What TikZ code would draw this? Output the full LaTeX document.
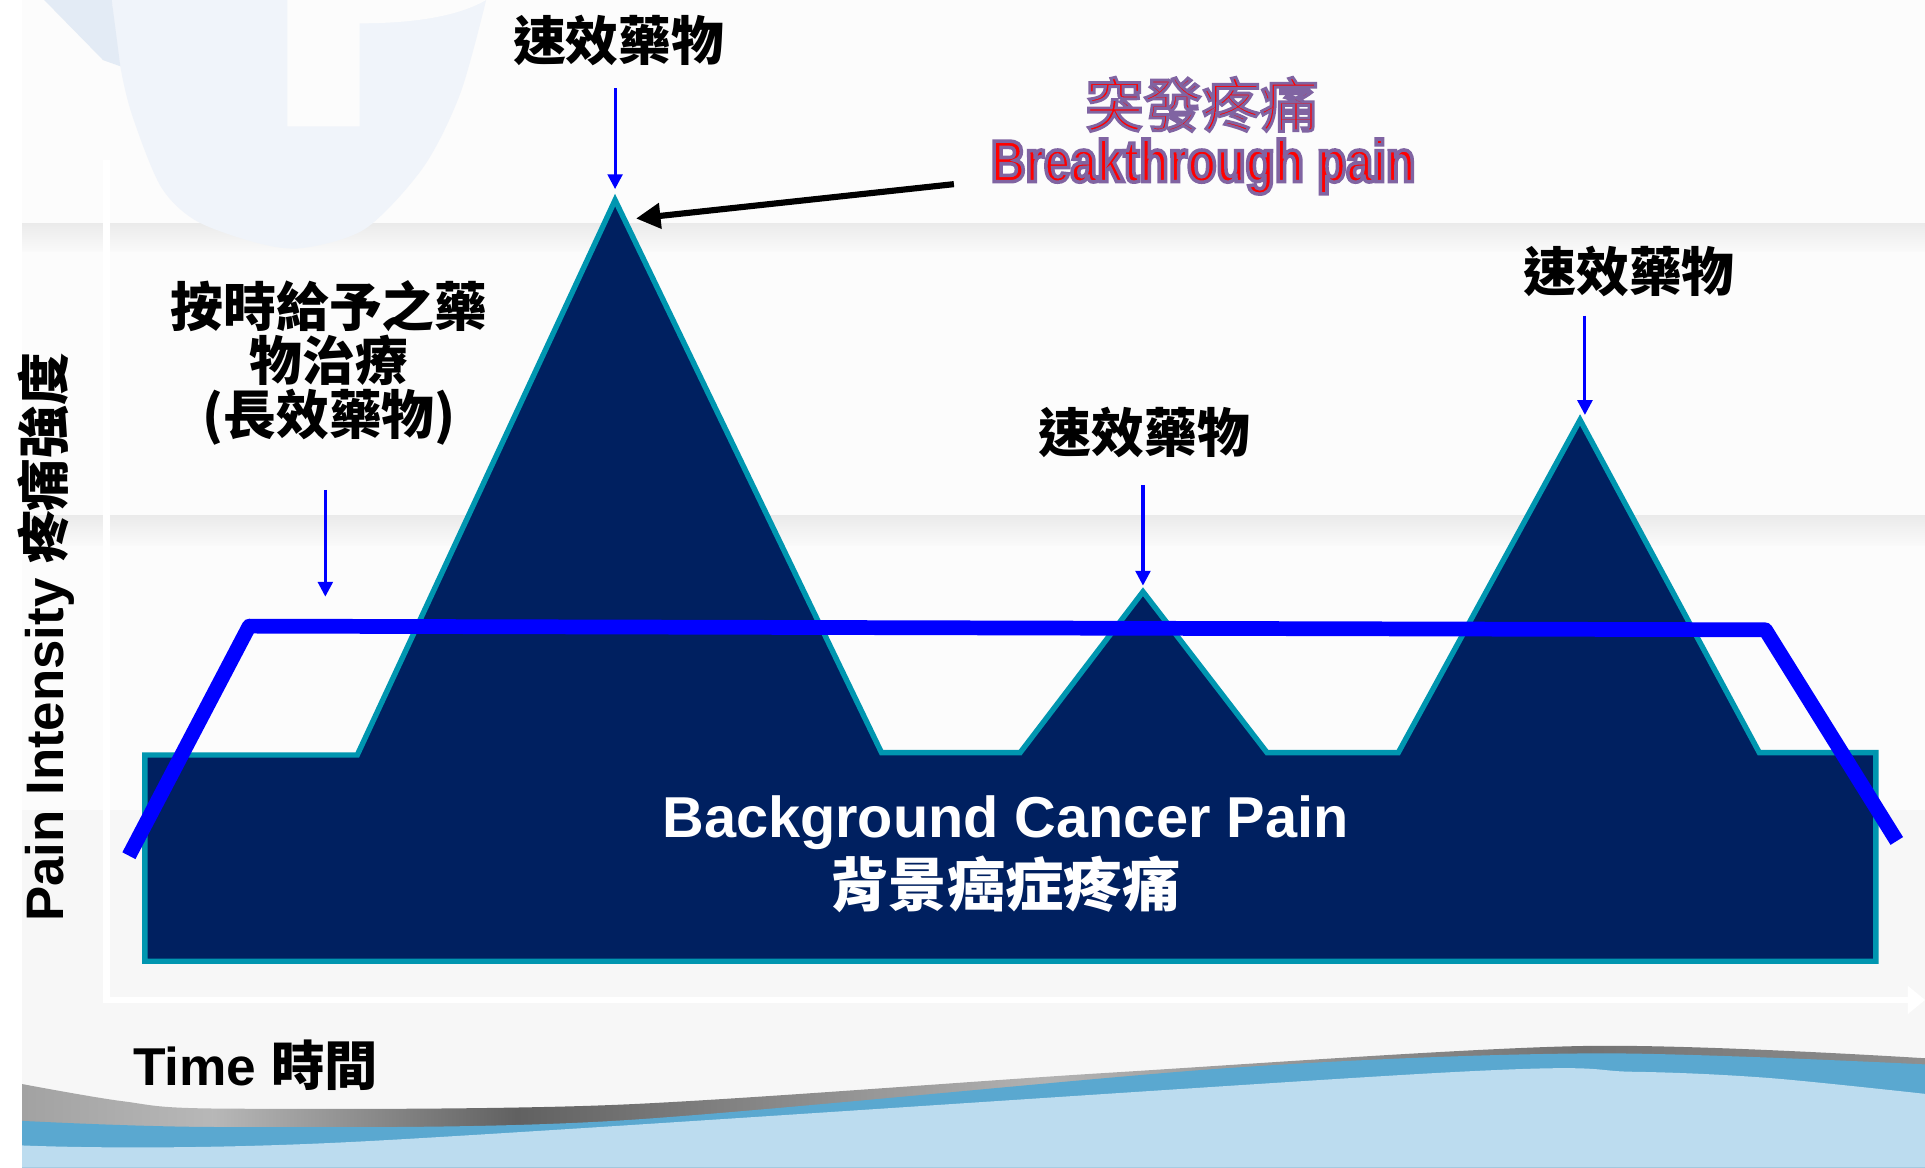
\documentclass[tikz,border=0pt]{standalone}
\usepackage{fontspec}
\setmainfont{Liberation Sans}
\newfontfamily\cjk{Noto Sans CJK TC}
\newfontfamily\cjkout{Noto Sans CJK TC}[FakeBold=5]
\newfontfamily\narrowout{Liberation Sans Bold}[FakeStretch=0.81,FakeBold=6]
\usetikzlibrary{arrows.meta}
\definecolor{navy}{RGB}{0,32,96}
\definecolor{tealedge}{RGB}{0,150,176}
\definecolor{purp}{RGB}{128,100,162}
\definecolor{midblue}{RGB}{90,168,208}
\definecolor{lightblue}{RGB}{188,220,239}
\definecolor{wmark}{RGB}{240,244,250}
\definecolor{wmarkdark}{RGB}{227,235,245}
\definecolor{bgtop}{RGB}{252,252,252}
\definecolor{bglow}{RGB}{247,247,247}
\definecolor{pureblue}{RGB}{0,0,255}
\pgfdeclarehorizontalshading{metal}{100bp}{color(0bp)=(black!60); color(20bp)=(black!45); color(30bp)=(black!28); color(38bp)=(black!62); color(52bp)=(black!30); color(66bp)=(black!55); color(82bp)=(black!35); color(100bp)=(black!55)}
\newcommand{\outlinetext}[1]{\special{pdf:bcolor [1 0 0] [0.502 0.392 0.635]}#1\special{pdf:ecolor}}
\begin{document}
\begin{tikzpicture}[x=0.5pt,y=-0.5pt,
  cjklabel/.style={font=\cjk\bfseries\fontsize{21.5pt}{22pt}\selectfont,text=black,inner sep=0pt,align=center},
  druglink/.style={draw=pureblue,line width=1.25pt,-{Triangle[length=6pt,width=6pt]}},
  painarea/.style={draw=tealedge,fill=navy,line width=2.2pt,line join=miter},
  levelline/.style={draw=pureblue,line width=6pt,line join=round},
  bandstyle/.style={top color=black!8,bottom color=black!2},
  axisline/.style={fill=white}
]
\useasboundingbox (0,0) rectangle (1568,951);
% background
\fill[white] (0,0) rectangle (1568,951);
\fill[bgtop] (18,0) rectangle (1568,660);
\fill[bglow] (18,660) rectangle (1568,951);
\shade[bandstyle] (18,182) rectangle (1568,205);
\shade[bandstyle] (18,420) rectangle (1568,444);
% watermark
\fill[wmark] (91,0) -- plot[smooth] coordinates {(91,0) (98,54) (108,95) (131,152) (160,180) (210,198) (247,202) (298,186) (345,136) (375,76) (396,0)} -- cycle;
\fill[wmarkdark] (36,0) -- (84,49) -- (98,54) -- (91,0) -- cycle;
\fill[bgtop] (234,0) -- (234,103) -- (293,103) -- (293,19) .. controls (330,19) and (370,15) .. (396,0) -- cycle;
% axes (white)
\fill[axisline] (84,130) rectangle (90,816);
\fill[axisline] (84,812) rectangle (1556,817);
\fill[axisline] (1554,803) -- (1568,814.5) -- (1554,826) -- cycle;
% bottom wave
\shade[shading=metal] plot[smooth] coordinates {(18,883) (100,897) (180,903) (500,900) (900,874) (1290,852) (1568,862)} -- (1568,951) -- (18,951) -- cycle;
\fill[midblue] plot[smooth] coordinates {(18,913) (180,918) (500,913) (1000,870) (1300,858) (1568,867)} -- (1568,951) -- (18,951) -- cycle;
\fill[lightblue] plot[smooth] coordinates {(18,933) (290,930) (1170,874) (1330,873) (1440,878) (1568,891)} -- (1568,951) -- (18,951) -- cycle;
% pain area
\draw[painarea] (118,615) -- (291,615) -- (501,163) -- (718,613) -- (831,613) -- (931,482) -- (1032,613) -- (1139,613) -- (1287,342) -- (1433,613) -- (1528,613) -- (1528,783) -- (118,783) -- cycle;
% long-acting level line
\coordinate (bl0) at (105,697);
\coordinate (bl1) at (203,510);
\coordinate (bl2) at (1438,513);
\coordinate (bl3) at (1545,685);
\draw[levelline] (bl0) -- (bl1) -- (bl2) -- (bl3);
% texts
\node[cjklabel] (d1) at (504,33) {速效藥物};
\node[cjklabel] (d2) at (932,352) {速效藥物};
\node[cjklabel] (d3) at (1327,221) {速效藥物};
\node[cjklabel] (ltxt) at (268,296) {按時給予之藥\\物治療\\(長效藥物)};
\node[font=\cjkout\fontsize{23.75pt}{24pt}\selectfont,inner sep=0pt] (btzh) at (979,85) {\outlinetext{突發疼痛}};
\node[font=\narrowout\fontsize{24pt}{25pt}\selectfont,anchor=base,inner sep=0pt] (bten) at (980,148) {\outlinetext{Breakthrough pain}};
\node[font=\bfseries\fontsize{23.5pt}{24pt}\selectfont,text=white,anchor=base,inner sep=0pt] (bgen) at (819,682) {Background Cancer Pain};
\node[font=\cjk\bfseries\fontsize{23.75pt}{24pt}\selectfont,text=white,inner sep=0pt] (bgzh) at (819,720) {背景癌症疼痛};
\node[rotate=90,anchor=base,font=\bfseries\fontsize{21.5pt}{22pt}\selectfont,inner sep=0pt] (ylab) at (52,519) {Pain Intensity {\cjk 疼痛強度}};
\node[anchor=base west,font=\bfseries\fontsize{21.7pt}{22pt}\selectfont,inner sep=0pt] (tlab) at (108,884) {Time {\cjk 時間}};
% arrows
\coordinate (d1s) at (501,72);   \coordinate (pk1) at (501,154);
\coordinate (d2s) at (931,395);  \coordinate (pk2) at (931,477);
\coordinate (d3s) at (1291,257); \coordinate (pk3) at (1291,338);
\coordinate (ls) at (265,399);   \coordinate (lv) at (265,486);
\draw[druglink] (d1s) -- (pk1);
\draw[druglink] (d2s) -- (pk2);
\draw[druglink] (d3s) -- (pk3);
\draw[druglink] (ls) -- (lv);
\coordinate (bts) at (777,150);  \coordinate (pk1r) at (518,178);
\draw[line width=2.5pt,-{Triangle[length=10pt,width=10pt]}] (bts) -- (pk1r);
\end{tikzpicture}
\end{document}
